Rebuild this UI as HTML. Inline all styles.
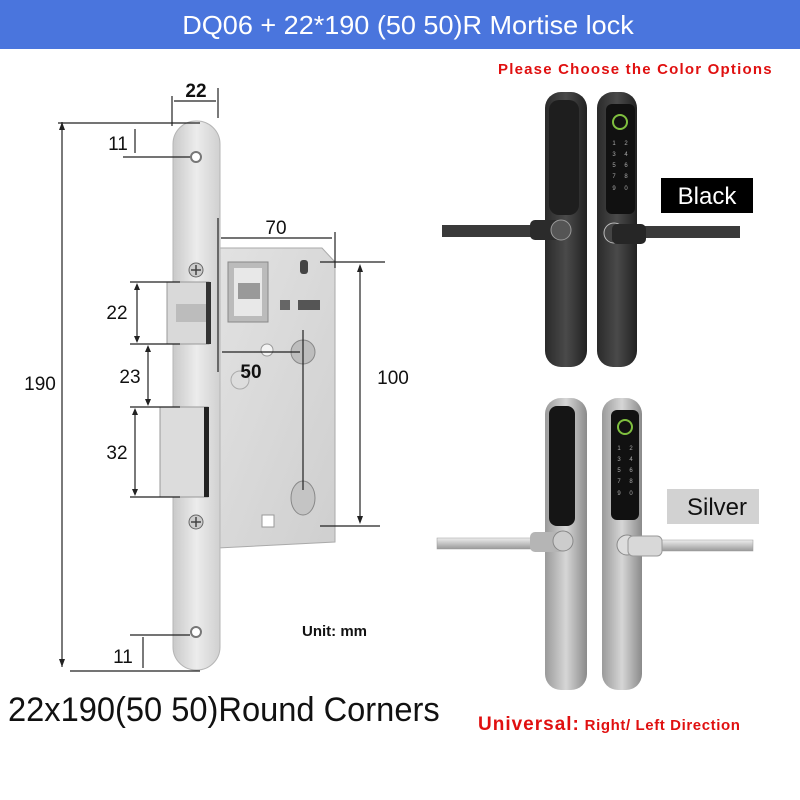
<!DOCTYPE html>
<html><head><meta charset="utf-8"><style>
html,body{margin:0;padding:0;background:#fff}
svg{display:block}
</style></head><body>
<svg width="800" height="800" viewBox="0 0 800 800" xmlns="http://www.w3.org/2000/svg" font-family="Liberation Sans, DejaVu Sans, sans-serif">
<defs>
<linearGradient id="plate" x1="0" x2="1"><stop offset="0" stop-color="#c9c9c9"/><stop offset="0.5" stop-color="#ececec"/><stop offset="1" stop-color="#d0d0d0"/></linearGradient>
<linearGradient id="case" x1="0" x2="1" y1="0" y2="1"><stop offset="0" stop-color="#e2e2e2"/><stop offset="1" stop-color="#cfcfcf"/></linearGradient>
<linearGradient id="blk" x1="0" x2="1"><stop offset="0" stop-color="#2a2a2a"/><stop offset="0.5" stop-color="#4a4a4a"/><stop offset="1" stop-color="#222"/></linearGradient>
<linearGradient id="slv" x1="0" x2="1"><stop offset="0" stop-color="#9a9a9a"/><stop offset="0.5" stop-color="#d6d6d6"/><stop offset="1" stop-color="#8a8a8a"/></linearGradient>
<linearGradient id="lev" x1="0" y1="0" x2="0" y2="1"><stop offset="0" stop-color="#eee"/><stop offset="1" stop-color="#999"/></linearGradient>
</defs>
<rect x="0" y="0" width="800" height="49" fill="#4a75dd"/>
<text x="408" y="34" text-anchor="middle" fill="#fff" font-size="26" transform="translate(408 0) scale(1.04 1) translate(-408 0)">DQ06 + 22*190 (50 50)R Mortise lock</text>

<!-- lock case -->
<path d="M218 248 H322 L335 262 V542 L218 548 Z" fill="url(#case)" stroke="#aaa"/>
<rect x="228" y="262" width="40" height="60" fill="#bbb" stroke="#888"/>
<rect x="234" y="268" width="28" height="48" fill="#e8e8e8"/>
<rect x="238" y="283" width="22" height="16" fill="#999"/>
<rect x="300" y="260" width="8" height="14" rx="3" fill="#444"/>
<rect x="298" y="300" width="22" height="10" fill="#555"/>
<rect x="280" y="300" width="10" height="10" fill="#666"/>
<circle cx="303" cy="352" r="12" fill="#bdbdbd" stroke="#888"/>
<circle cx="267" cy="350" r="6" fill="#f4f4f4" stroke="#999"/>
<ellipse cx="303" cy="498" rx="12" ry="17" fill="#c4c4c4" stroke="#888"/>
<circle cx="240" cy="380" r="9" fill="#ddd" stroke="#aaa"/>
<rect x="262" y="515" width="12" height="12" fill="#fff" stroke="#999"/>
<!-- faceplate -->
<rect x="173" y="121" width="47" height="549" rx="23" fill="url(#plate)" stroke="#b5b5b5"/>
<circle cx="196" cy="157" r="5" fill="#fff" stroke="#777" stroke-width="2"/>
<circle cx="196" cy="632" r="5" fill="#fff" stroke="#777" stroke-width="2"/>
<circle cx="196" cy="270" r="7" fill="#ccc" stroke="#666"/>
<path d="M191 270h10M196 265v10" stroke="#444" stroke-width="1.5"/>
<circle cx="196" cy="522" r="7" fill="#ccc" stroke="#666"/>
<path d="M191 522h10M196 517v10" stroke="#444" stroke-width="1.5"/>
<!-- latch -->
<rect x="167" y="282" width="42" height="62" fill="#d9d9d9" stroke="#999"/>
<rect x="176" y="304" width="30" height="18" fill="#bcbcbc"/>
<rect x="206" y="282" width="5" height="62" fill="#333"/>
<!-- deadbolt -->
<rect x="160" y="407" width="48" height="90" fill="#dcdcdc" stroke="#999"/>
<rect x="204" y="407" width="5" height="90" fill="#222"/>

<!-- dimensions -->
<g stroke="#222" stroke-width="1.2" fill="none">
<path d="M62 122 V667 M58 123 H200 M70 671 H200"/>
<path d="M123 157 H190 M135 129 V153"/>
<path d="M172 96 V126 M218 88 V118 M174 101 H216"/>
<path d="M218 218 V372 M335 232 V268 M221 238 H332"/>
<path d="M130 282 H180 M130 344 H180 M137 285 V341"/>
<path d="M148 347 V404 M130 407 H180 M130 497 H180 M135 410 V494"/>
<path d="M320 262 H385 M320 526 H380 M360 266 V522"/>
<path d="M222 352 H300 M303 330 V490"/>
<path d="M130 635 H190 M143 637 V668"/>
</g>
<g fill="#222">
<path d="M62 122 l-3 8 h6z M62 667 l-3 -8 h6z M360 264 l-3 8 h6z M360 524 l-3 -8 h6z M137 283 l-3 7 h6z M137 343 l-3 -7 h6z M135 408 l-3 7 h6z M135 496 l-3 -7 h6z M148 345 l-3 7 h6z M148 406 l-3 -7 h6z"/>
</g>
<g font-size="19" fill="#111">
<text x="40" y="390" text-anchor="middle">190</text>
<text x="118" y="150" text-anchor="middle">11</text>
<text x="196" y="97" text-anchor="middle" font-weight="bold">22</text>
<text x="276" y="234" text-anchor="middle">70</text>
<text x="117" y="319" text-anchor="middle">22</text>
<text x="130" y="383" text-anchor="middle">23</text>
<text x="117" y="459" text-anchor="middle">32</text>
<text x="393" y="384" text-anchor="middle">100</text>
<text x="251" y="378" text-anchor="middle" font-weight="bold">50</text>
<text x="123" y="663" text-anchor="middle">11</text>
</g>
<text x="302" y="636" font-size="15" font-weight="bold" fill="#111">Unit: mm</text>
<text x="8" y="721" font-size="34" fill="#111" transform="translate(8 0) scale(0.96 1) translate(-8 0)">22x190(50 50)Round Corners</text>

<!-- right side -->
<text x="498" y="74" font-size="15" font-weight="bold" fill="#e01010" letter-spacing="1.2">Please Choose the Color Options</text>
<!-- black lock -->
<rect x="442" y="225" width="120" height="12" fill="#3a3a3a"/>
<rect x="545" y="92" width="42" height="275" rx="16" fill="url(#blk)"/>
<rect x="549" y="100" width="30" height="115" rx="10" fill="#1e1e1e"/>
<rect x="530" y="220" width="35" height="20" rx="5" fill="#2b2b2b"/>
<circle cx="561" cy="230" r="10" fill="#555" stroke="#999"/>
<rect x="597" y="92" width="40" height="275" rx="16" fill="url(#blk)"/>
<rect x="606" y="104" width="29" height="110" rx="6" fill="#111"/>
<circle cx="620" cy="122" r="7" fill="none" stroke="#7fbf3f" stroke-width="2"/>
<g font-size="6" fill="#aaa" text-anchor="middle"><text x="614" y="145">1</text><text x="626" y="145">2</text><text x="614" y="156">3</text><text x="626" y="156">4</text><text x="614" y="167">5</text><text x="626" y="167">6</text><text x="614" y="178">7</text><text x="626" y="178">8</text><text x="614" y="190">9</text><text x="626" y="190">0</text></g>
<rect x="625" y="226" width="115" height="12" fill="#3a3a3a"/>
<circle cx="614" cy="233" r="10" fill="#444" stroke="#bbb"/>
<rect x="612" y="224" width="34" height="20" rx="5" fill="#262626"/>
<rect x="661" y="178" width="92" height="35" fill="#000"/>
<text x="707" y="204" font-size="24" fill="#fff" text-anchor="middle">Black</text>
<!-- silver lock -->
<rect x="437" y="538" width="128" height="11" fill="url(#lev)" stroke="#999" stroke-width="0.5"/>
<rect x="545" y="398" width="42" height="292" rx="16" fill="url(#slv)"/>
<rect x="549" y="406" width="26" height="120" rx="8" fill="#151515"/>
<rect x="530" y="532" width="35" height="20" rx="5" fill="#b5b5b5"/>
<circle cx="563" cy="541" r="10" fill="#ccc" stroke="#888"/>
<rect x="602" y="398" width="40" height="292" rx="16" fill="url(#slv)"/>
<rect x="611" y="410" width="28" height="110" rx="6" fill="#111"/>
<circle cx="625" cy="427" r="7" fill="none" stroke="#7fbf3f" stroke-width="2"/>
<g font-size="6" fill="#aaa" text-anchor="middle"><text x="619" y="450">1</text><text x="631" y="450">2</text><text x="619" y="461">3</text><text x="631" y="461">4</text><text x="619" y="472">5</text><text x="631" y="472">6</text><text x="619" y="483">7</text><text x="631" y="483">8</text><text x="619" y="495">9</text><text x="631" y="495">0</text></g>
<rect x="630" y="540" width="123" height="11" fill="url(#lev)" stroke="#999" stroke-width="0.5"/>
<circle cx="627" cy="545" r="10" fill="#ddd" stroke="#888"/>
<rect x="628" y="536" width="34" height="20" rx="5" fill="#d8d8d8" stroke="#999"/>
<rect x="667" y="489" width="92" height="35" fill="#d2d2d2"/>
<text x="717" y="515" font-size="24" fill="#111" text-anchor="middle">Silver</text>
<text x="478" y="730" fill="#e01010" font-weight="bold"><tspan font-size="19" letter-spacing="1">Universal:</tspan><tspan font-size="15" letter-spacing="0.6"> Right/ Left Direction</tspan></text>
</svg>
</body></html>
